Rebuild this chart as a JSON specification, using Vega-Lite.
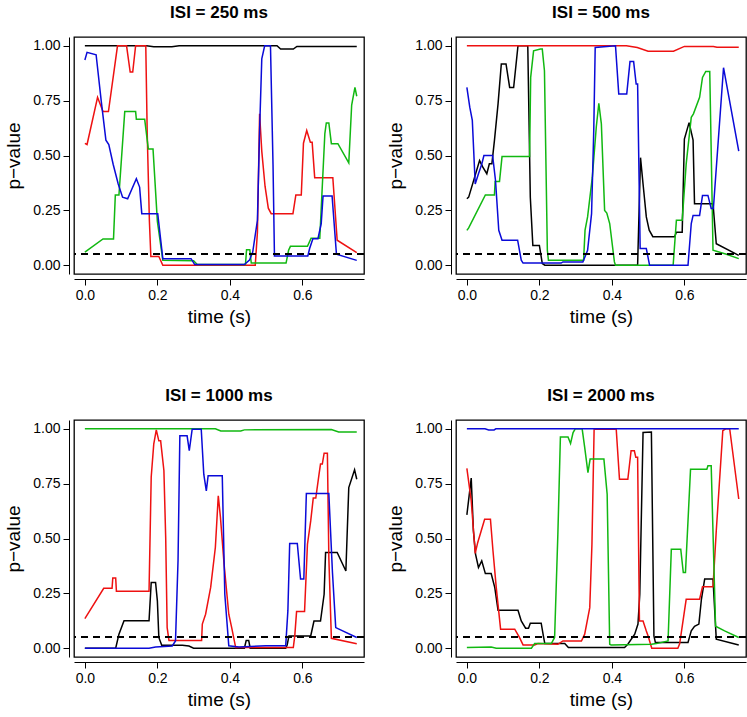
{
"$schema": "https://vega.github.io/schema/vega-lite/v6.json",
"padding": {"left": 4, "top": 3, "right": 0, "bottom": 0},
"background": "white",
"columns": 2,
"spacing": {"row": 146, "column": 92},
"bounds": "flush",
"datasets": {
"d250": [
{"t":0,"p":1,"s":"k"},{"t":0.17,"p":1,"s":"k"},{"t":0.19,"p":0.996,"s":"k"},{"t":0.24,"p":0.996,"s":"k"},{"t":0.26,"p":1,"s":"k"},{"t":0.53,"p":1,"s":"k"},{"t":0.54,"p":0.985,"s":"k"},{"t":0.575,"p":0.985,"s":"k"},{"t":0.585,"p":0.997,"s":"k"},{"t":0.75,"p":0.997,"s":"k"},
{"t":0,"p":0.555,"s":"r"},{"t":0.006,"p":0.55,"s":"r"},{"t":0.035,"p":0.765,"s":"r"},{"t":0.05,"p":0.7,"s":"r"},{"t":0.065,"p":0.7,"s":"r"},{"t":0.09,"p":1,"s":"r"},{"t":0.115,"p":1,"s":"r"},{"t":0.125,"p":0.88,"s":"r"},{"t":0.132,"p":0.88,"s":"r"},{"t":0.14,"p":1,"s":"r"},{"t":0.168,"p":1,"s":"r"},{"t":0.172,"p":0.6,"s":"r"},{"t":0.178,"p":0.2,"s":"r"},{"t":0.182,"p":0.04,"s":"r"},{"t":0.204,"p":0.04,"s":"r"},{"t":0.215,"p":0,"s":"r"},{"t":0.47,"p":0,"s":"r"},{"t":0.476,"p":0.15,"s":"r"},{"t":0.482,"p":0.69,"s":"r"},{"t":0.488,"p":0.52,"s":"r"},{"t":0.497,"p":0.36,"s":"r"},{"t":0.506,"p":0.26,"s":"r"},{"t":0.514,"p":0.235,"s":"r"},{"t":0.574,"p":0.235,"s":"r"},{"t":0.582,"p":0.32,"s":"r"},{"t":0.597,"p":0.32,"s":"r"},{"t":0.603,"p":0.556,"s":"r"},{"t":0.612,"p":0.614,"s":"r"},{"t":0.622,"p":0.56,"s":"r"},{"t":0.627,"p":0.56,"s":"r"},{"t":0.634,"p":0.399,"s":"r"},{"t":0.684,"p":0.399,"s":"r"},{"t":0.696,"p":0.114,"s":"r"},{"t":0.75,"p":0.057,"s":"r"},
{"t":0,"p":0.06,"s":"g"},{"t":0.05,"p":0.12,"s":"g"},{"t":0.079,"p":0.12,"s":"g"},{"t":0.084,"p":0.32,"s":"g"},{"t":0.094,"p":0.32,"s":"g"},{"t":0.11,"p":0.7,"s":"g"},{"t":0.14,"p":0.7,"s":"g"},{"t":0.142,"p":0.665,"s":"g"},{"t":0.165,"p":0.665,"s":"g"},{"t":0.175,"p":0.53,"s":"g"},{"t":0.188,"p":0.53,"s":"g"},{"t":0.2,"p":0.2,"s":"g"},{"t":0.215,"p":0.023,"s":"g"},{"t":0.3,"p":0.02,"s":"g"},{"t":0.31,"p":0.003,"s":"g"},{"t":0.443,"p":0.003,"s":"g"},{"t":0.446,"p":0.07,"s":"g"},{"t":0.455,"p":0.07,"s":"g"},{"t":0.459,"p":0.01,"s":"g"},{"t":0.555,"p":0.01,"s":"g"},{"t":0.562,"p":0.068,"s":"g"},{"t":0.567,"p":0.086,"s":"g"},{"t":0.614,"p":0.086,"s":"g"},{"t":0.624,"p":0.123,"s":"g"},{"t":0.648,"p":0.123,"s":"g"},{"t":0.662,"p":0.6,"s":"g"},{"t":0.666,"p":0.648,"s":"g"},{"t":0.673,"p":0.648,"s":"g"},{"t":0.68,"p":0.554,"s":"g"},{"t":0.698,"p":0.554,"s":"g"},{"t":0.728,"p":0.466,"s":"g"},{"t":0.736,"p":0.73,"s":"g"},{"t":0.745,"p":0.81,"s":"g"},{"t":0.75,"p":0.77,"s":"g"},
{"t":0,"p":0.935,"s":"b"},{"t":0.006,"p":0.97,"s":"b"},{"t":0.031,"p":0.959,"s":"b"},{"t":0.045,"p":0.75,"s":"b"},{"t":0.058,"p":0.57,"s":"b"},{"t":0.066,"p":0.55,"s":"b"},{"t":0.078,"p":0.46,"s":"b"},{"t":0.092,"p":0.37,"s":"b"},{"t":0.104,"p":0.31,"s":"b"},{"t":0.118,"p":0.303,"s":"b"},{"t":0.142,"p":0.394,"s":"b"},{"t":0.151,"p":0.356,"s":"b"},{"t":0.157,"p":0.235,"s":"b"},{"t":0.201,"p":0.235,"s":"b"},{"t":0.215,"p":0.03,"s":"b"},{"t":0.293,"p":0.03,"s":"b"},{"t":0.303,"p":0.003,"s":"b"},{"t":0.44,"p":0.003,"s":"b"},{"t":0.454,"p":0.023,"s":"b"},{"t":0.463,"p":0.06,"s":"b"},{"t":0.476,"p":0.205,"s":"b"},{"t":0.482,"p":0.614,"s":"b"},{"t":0.488,"p":0.94,"s":"b"},{"t":0.496,"p":1,"s":"b"},{"t":0.512,"p":1,"s":"b"},{"t":0.519,"p":0.46,"s":"b"},{"t":0.523,"p":0.042,"s":"b"},{"t":0.615,"p":0.042,"s":"b"},{"t":0.62,"p":0.076,"s":"b"},{"t":0.629,"p":0.121,"s":"b"},{"t":0.643,"p":0.121,"s":"b"},{"t":0.652,"p":0.19,"s":"b"},{"t":0.657,"p":0.315,"s":"b"},{"t":0.682,"p":0.315,"s":"b"},{"t":0.694,"p":0.05,"s":"b"},{"t":0.75,"p":0.022,"s":"b"}
],
"d500": [
{"t":0,"p":0.303,"s":"k"},{"t":0.005,"p":0.31,"s":"k"},{"t":0.035,"p":0.477,"s":"k"},{"t":0.044,"p":0.447,"s":"k"},{"t":0.055,"p":0.417,"s":"k"},{"t":0.062,"p":0.462,"s":"k"},{"t":0.069,"p":0.462,"s":"k"},{"t":0.076,"p":0.568,"s":"k"},{"t":0.086,"p":0.735,"s":"k"},{"t":0.095,"p":0.917,"s":"k"},{"t":0.108,"p":0.917,"s":"k"},{"t":0.118,"p":0.81,"s":"k"},{"t":0.129,"p":0.81,"s":"k"},{"t":0.141,"p":1,"s":"k"},{"t":0.168,"p":1,"s":"k"},{"t":0.175,"p":0.31,"s":"k"},{"t":0.182,"p":0.09,"s":"k"},{"t":0.2,"p":0.09,"s":"k"},{"t":0.208,"p":0.008,"s":"k"},{"t":0.215,"p":0,"s":"k"},{"t":0.471,"p":0,"s":"k"},{"t":0.479,"p":0.49,"s":"k"},{"t":0.486,"p":0.37,"s":"k"},{"t":0.495,"p":0.22,"s":"k"},{"t":0.503,"p":0.16,"s":"k"},{"t":0.513,"p":0.13,"s":"k"},{"t":0.573,"p":0.13,"s":"k"},{"t":0.578,"p":0.15,"s":"k"},{"t":0.594,"p":0.15,"s":"k"},{"t":0.6,"p":0.575,"s":"k"},{"t":0.613,"p":0.65,"s":"k"},{"t":0.624,"p":0.57,"s":"k"},{"t":0.628,"p":0.28,"s":"k"},{"t":0.679,"p":0.28,"s":"k"},{"t":0.688,"p":0.098,"s":"k"},{"t":0.75,"p":0.045,"s":"k"},
{"t":0,"p":1,"s":"r"},{"t":0.44,"p":1,"s":"r"},{"t":0.47,"p":0.992,"s":"r"},{"t":0.5,"p":0.975,"s":"r"},{"t":0.57,"p":0.975,"s":"r"},{"t":0.6,"p":0.997,"s":"r"},{"t":0.68,"p":0.997,"s":"r"},{"t":0.69,"p":0.993,"s":"r"},{"t":0.75,"p":0.993,"s":"r"},
{"t":0,"p":0.159,"s":"g"},{"t":0.005,"p":0.17,"s":"g"},{"t":0.051,"p":0.32,"s":"g"},{"t":0.076,"p":0.32,"s":"g"},{"t":0.078,"p":0.382,"s":"g"},{"t":0.09,"p":0.382,"s":"g"},{"t":0.097,"p":0.495,"s":"g"},{"t":0.173,"p":0.495,"s":"g"},{"t":0.176,"p":0.856,"s":"g"},{"t":0.184,"p":0.977,"s":"g"},{"t":0.203,"p":0.985,"s":"g"},{"t":0.208,"p":0.985,"s":"g"},{"t":0.214,"p":0.886,"s":"g"},{"t":0.222,"p":0.068,"s":"g"},{"t":0.225,"p":0.023,"s":"g"},{"t":0.322,"p":0.023,"s":"g"},{"t":0.326,"p":0.16,"s":"g"},{"t":0.333,"p":0.22,"s":"g"},{"t":0.346,"p":0.4,"s":"g"},{"t":0.357,"p":0.63,"s":"g"},{"t":0.364,"p":0.738,"s":"g"},{"t":0.371,"p":0.644,"s":"g"},{"t":0.38,"p":0.25,"s":"g"},{"t":0.386,"p":0.238,"s":"g"},{"t":0.394,"p":0.19,"s":"g"},{"t":0.407,"p":0.015,"s":"g"},{"t":0.41,"p":0,"s":"g"},{"t":0.569,"p":0,"s":"g"},{"t":0.578,"p":0.205,"s":"g"},{"t":0.594,"p":0.205,"s":"g"},{"t":0.605,"p":0.462,"s":"g"},{"t":0.619,"p":0.674,"s":"g"},{"t":0.625,"p":0.69,"s":"g"},{"t":0.642,"p":0.765,"s":"g"},{"t":0.65,"p":0.856,"s":"g"},{"t":0.659,"p":0.883,"s":"g"},{"t":0.67,"p":0.883,"s":"g"},{"t":0.679,"p":0.068,"s":"g"},{"t":0.716,"p":0.05,"s":"g"},{"t":0.75,"p":0.03,"s":"g"},
{"t":0,"p":0.81,"s":"b"},{"t":0.008,"p":0.72,"s":"b"},{"t":0.015,"p":0.66,"s":"b"},{"t":0.023,"p":0.37,"s":"b"},{"t":0.032,"p":0.417,"s":"b"},{"t":0.041,"p":0.46,"s":"b"},{"t":0.047,"p":0.5,"s":"b"},{"t":0.071,"p":0.5,"s":"b"},{"t":0.079,"p":0.386,"s":"b"},{"t":0.088,"p":0.159,"s":"b"},{"t":0.097,"p":0.114,"s":"b"},{"t":0.14,"p":0.114,"s":"b"},{"t":0.15,"p":0.023,"s":"b"},{"t":0.155,"p":0.01,"s":"b"},{"t":0.26,"p":0.01,"s":"b"},{"t":0.265,"p":0.015,"s":"b"},{"t":0.32,"p":0.015,"s":"b"},{"t":0.333,"p":0.068,"s":"b"},{"t":0.344,"p":0.235,"s":"b"},{"t":0.35,"p":0.614,"s":"b"},{"t":0.354,"p":0.992,"s":"b"},{"t":0.41,"p":1,"s":"b"},{"t":0.419,"p":0.78,"s":"b"},{"t":0.441,"p":0.78,"s":"b"},{"t":0.45,"p":0.928,"s":"b"},{"t":0.46,"p":0.928,"s":"b"},{"t":0.467,"p":0.826,"s":"b"},{"t":0.471,"p":0.826,"s":"b"},{"t":0.478,"p":0.076,"s":"b"},{"t":0.495,"p":0.076,"s":"b"},{"t":0.504,"p":0,"s":"b"},{"t":0.61,"p":0,"s":"b"},{"t":0.619,"p":0.19,"s":"b"},{"t":0.624,"p":0.227,"s":"b"},{"t":0.642,"p":0.227,"s":"b"},{"t":0.65,"p":0.318,"s":"b"},{"t":0.665,"p":0.318,"s":"b"},{"t":0.674,"p":0.258,"s":"b"},{"t":0.68,"p":0.258,"s":"b"},{"t":0.708,"p":0.9,"s":"b"},{"t":0.75,"p":0.52,"s":"b"}
],
"d1000": [
{"t":0,"p":0,"s":"k"},{"t":0.085,"p":0,"s":"k"},{"t":0.094,"p":0.064,"s":"k"},{"t":0.108,"p":0.125,"s":"k"},{"t":0.177,"p":0.125,"s":"k"},{"t":0.183,"p":0.3,"s":"k"},{"t":0.195,"p":0.3,"s":"k"},{"t":0.2,"p":0.216,"s":"k"},{"t":0.204,"p":0.049,"s":"k"},{"t":0.212,"p":0.014,"s":"k"},{"t":0.269,"p":0.014,"s":"k"},{"t":0.287,"p":0.01,"s":"k"},{"t":0.3,"p":0,"s":"k"},{"t":0.44,"p":0,"s":"k"},{"t":0.445,"p":0.035,"s":"k"},{"t":0.452,"p":0.035,"s":"k"},{"t":0.456,"p":0,"s":"k"},{"t":0.554,"p":0,"s":"k"},{"t":0.558,"p":0.015,"s":"k"},{"t":0.563,"p":0.056,"s":"k"},{"t":0.623,"p":0.056,"s":"k"},{"t":0.632,"p":0.124,"s":"k"},{"t":0.65,"p":0.124,"s":"k"},{"t":0.66,"p":0.246,"s":"k"},{"t":0.664,"p":0.436,"s":"k"},{"t":0.696,"p":0.436,"s":"k"},{"t":0.72,"p":0.352,"s":"k"},{"t":0.728,"p":0.732,"s":"k"},{"t":0.744,"p":0.813,"s":"k"},{"t":0.75,"p":0.77,"s":"k"},
{"t":0,"p":0.135,"s":"r"},{"t":0.052,"p":0.273,"s":"r"},{"t":0.075,"p":0.273,"s":"r"},{"t":0.077,"p":0.32,"s":"r"},{"t":0.085,"p":0.32,"s":"r"},{"t":0.087,"p":0.26,"s":"r"},{"t":0.177,"p":0.26,"s":"r"},{"t":0.183,"p":0.78,"s":"r"},{"t":0.19,"p":0.93,"s":"r"},{"t":0.197,"p":0.995,"s":"r"},{"t":0.204,"p":0.945,"s":"r"},{"t":0.209,"p":0.945,"s":"r"},{"t":0.218,"p":0.81,"s":"r"},{"t":0.223,"p":0.5,"s":"r"},{"t":0.227,"p":0.094,"s":"r"},{"t":0.232,"p":0.035,"s":"r"},{"t":0.322,"p":0.035,"s":"r"},{"t":0.324,"p":0.11,"s":"r"},{"t":0.333,"p":0.155,"s":"r"},{"t":0.347,"p":0.277,"s":"r"},{"t":0.36,"p":0.46,"s":"r"},{"t":0.368,"p":0.695,"s":"r"},{"t":0.374,"p":0.596,"s":"r"},{"t":0.384,"p":0.383,"s":"r"},{"t":0.397,"p":0.155,"s":"r"},{"t":0.405,"p":0.094,"s":"r"},{"t":0.416,"p":0.003,"s":"r"},{"t":0.575,"p":0.003,"s":"r"},{"t":0.579,"p":0.056,"s":"r"},{"t":0.584,"p":0.167,"s":"r"},{"t":0.606,"p":0.167,"s":"r"},{"t":0.614,"p":0.474,"s":"r"},{"t":0.623,"p":0.58,"s":"r"},{"t":0.63,"p":0.684,"s":"r"},{"t":0.637,"p":0.684,"s":"r"},{"t":0.646,"p":0.793,"s":"r"},{"t":0.65,"p":0.839,"s":"r"},{"t":0.655,"p":0.839,"s":"r"},{"t":0.66,"p":0.889,"s":"r"},{"t":0.669,"p":0.889,"s":"r"},{"t":0.673,"p":0.413,"s":"r"},{"t":0.68,"p":0.045,"s":"r"},{"t":0.75,"p":0.02,"s":"r"},
{"t":0,"p":1,"s":"g"},{"t":0.36,"p":1,"s":"g"},{"t":0.375,"p":0.99,"s":"g"},{"t":0.43,"p":0.99,"s":"g"},{"t":0.44,"p":0.995,"s":"g"},{"t":0.68,"p":0.997,"s":"g"},{"t":0.7,"p":0.985,"s":"g"},{"t":0.75,"p":0.985,"s":"g"},
{"t":0,"p":0,"s":"b"},{"t":0.177,"p":0,"s":"b"},{"t":0.195,"p":0.006,"s":"b"},{"t":0.241,"p":0.01,"s":"b"},{"t":0.25,"p":0.033,"s":"b"},{"t":0.257,"p":0.4,"s":"b"},{"t":0.262,"p":0.968,"s":"b"},{"t":0.282,"p":0.968,"s":"b"},{"t":0.288,"p":0.9,"s":"b"},{"t":0.296,"p":0.998,"s":"b"},{"t":0.321,"p":0.998,"s":"b"},{"t":0.328,"p":0.793,"s":"b"},{"t":0.335,"p":0.717,"s":"b"},{"t":0.34,"p":0.786,"s":"b"},{"t":0.379,"p":0.786,"s":"b"},{"t":0.386,"p":0.246,"s":"b"},{"t":0.397,"p":0.011,"s":"b"},{"t":0.425,"p":0.006,"s":"b"},{"t":0.499,"p":0.011,"s":"b"},{"t":0.554,"p":0.011,"s":"b"},{"t":0.56,"p":0.17,"s":"b"},{"t":0.565,"p":0.477,"s":"b"},{"t":0.586,"p":0.477,"s":"b"},{"t":0.595,"p":0.315,"s":"b"},{"t":0.604,"p":0.315,"s":"b"},{"t":0.611,"p":0.705,"s":"b"},{"t":0.673,"p":0.705,"s":"b"},{"t":0.683,"p":0.345,"s":"b"},{"t":0.692,"p":0.094,"s":"b"},{"t":0.75,"p":0.049,"s":"b"}
],
"d2000": [
{"t":0,"p":0.608,"s":"k"},{"t":0.012,"p":0.775,"s":"k"},{"t":0.018,"p":0.535,"s":"k"},{"t":0.024,"p":0.428,"s":"k"},{"t":0.032,"p":0.368,"s":"k"},{"t":0.041,"p":0.398,"s":"k"},{"t":0.051,"p":0.34,"s":"k"},{"t":0.067,"p":0.34,"s":"k"},{"t":0.077,"p":0.276,"s":"k"},{"t":0.086,"p":0.173,"s":"k"},{"t":0.141,"p":0.173,"s":"k"},{"t":0.15,"p":0.124,"s":"k"},{"t":0.162,"p":0.091,"s":"k"},{"t":0.17,"p":0.091,"s":"k"},{"t":0.175,"p":0.114,"s":"k"},{"t":0.205,"p":0.114,"s":"k"},{"t":0.211,"p":0.056,"s":"k"},{"t":0.215,"p":0.021,"s":"k"},{"t":0.27,"p":0.021,"s":"k"},{"t":0.28,"p":0.003,"s":"k"},{"t":0.435,"p":0.003,"s":"k"},{"t":0.444,"p":0.018,"s":"k"},{"t":0.463,"p":0.064,"s":"k"},{"t":0.472,"p":0.11,"s":"k"},{"t":0.477,"p":0.246,"s":"k"},{"t":0.486,"p":0.983,"s":"k"},{"t":0.509,"p":0.985,"s":"k"},{"t":0.516,"p":0.056,"s":"k"},{"t":0.52,"p":0.026,"s":"k"},{"t":0.61,"p":0.026,"s":"k"},{"t":0.619,"p":0.079,"s":"k"},{"t":0.628,"p":0.1,"s":"k"},{"t":0.64,"p":0.11,"s":"k"},{"t":0.647,"p":0.223,"s":"k"},{"t":0.656,"p":0.315,"s":"k"},{"t":0.679,"p":0.315,"s":"k"},{"t":0.688,"p":0.041,"s":"k"},{"t":0.75,"p":0.015,"s":"k"},
{"t":0,"p":0.82,"s":"r"},{"t":0.012,"p":0.672,"s":"r"},{"t":0.023,"p":0.432,"s":"r"},{"t":0.03,"p":0.482,"s":"r"},{"t":0.049,"p":0.588,"s":"r"},{"t":0.065,"p":0.588,"s":"r"},{"t":0.072,"p":0.444,"s":"r"},{"t":0.081,"p":0.277,"s":"r"},{"t":0.093,"p":0.087,"s":"r"},{"t":0.132,"p":0.087,"s":"r"},{"t":0.145,"p":0.049,"s":"r"},{"t":0.155,"p":0.015,"s":"r"},{"t":0.187,"p":0.015,"s":"r"},{"t":0.196,"p":0.021,"s":"r"},{"t":0.251,"p":0.018,"s":"r"},{"t":0.265,"p":0.033,"s":"r"},{"t":0.316,"p":0.033,"s":"r"},{"t":0.325,"p":0.064,"s":"r"},{"t":0.339,"p":0.185,"s":"r"},{"t":0.345,"p":0.474,"s":"r"},{"t":0.351,"p":0.998,"s":"r"},{"t":0.412,"p":0.998,"s":"r"},{"t":0.421,"p":0.77,"s":"r"},{"t":0.444,"p":0.77,"s":"r"},{"t":0.453,"p":0.9,"s":"r"},{"t":0.462,"p":0.9,"s":"r"},{"t":0.466,"p":0.87,"s":"r"},{"t":0.471,"p":0.87,"s":"r"},{"t":0.476,"p":0.124,"s":"r"},{"t":0.486,"p":0.124,"s":"r"},{"t":0.495,"p":0.079,"s":"r"},{"t":0.5,"p":0.056,"s":"r"},{"t":0.51,"p":0,"s":"r"},{"t":0.582,"p":0,"s":"r"},{"t":0.587,"p":0.02,"s":"r"},{"t":0.599,"p":0.155,"s":"r"},{"t":0.605,"p":0.223,"s":"r"},{"t":0.642,"p":0.223,"s":"r"},{"t":0.65,"p":0.28,"s":"r"},{"t":0.679,"p":0.28,"s":"r"},{"t":0.688,"p":0.535,"s":"r"},{"t":0.706,"p":0.991,"s":"r"},{"t":0.714,"p":1,"s":"r"},{"t":0.725,"p":1,"s":"r"},{"t":0.75,"p":0.68,"s":"r"},
{"t":0,"p":0.003,"s":"g"},{"t":0.067,"p":0.006,"s":"g"},{"t":0.081,"p":0,"s":"g"},{"t":0.178,"p":0,"s":"g"},{"t":0.187,"p":0.021,"s":"g"},{"t":0.233,"p":0.021,"s":"g"},{"t":0.242,"p":0.049,"s":"g"},{"t":0.251,"p":0.52,"s":"g"},{"t":0.258,"p":0.963,"s":"g"},{"t":0.279,"p":0.963,"s":"g"},{"t":0.286,"p":0.933,"s":"g"},{"t":0.293,"p":0.983,"s":"g"},{"t":0.299,"p":1,"s":"g"},{"t":0.318,"p":1,"s":"g"},{"t":0.325,"p":0.915,"s":"g"},{"t":0.334,"p":0.8,"s":"g"},{"t":0.34,"p":0.862,"s":"g"},{"t":0.378,"p":0.862,"s":"g"},{"t":0.387,"p":0.702,"s":"g"},{"t":0.394,"p":0.018,"s":"g"},{"t":0.398,"p":0.015,"s":"g"},{"t":0.509,"p":0.018,"s":"g"},{"t":0.523,"p":0.021,"s":"g"},{"t":0.555,"p":0.033,"s":"g"},{"t":0.564,"p":0.451,"s":"g"},{"t":0.59,"p":0.451,"s":"g"},{"t":0.597,"p":0.345,"s":"g"},{"t":0.603,"p":0.345,"s":"g"},{"t":0.617,"p":0.816,"s":"g"},{"t":0.662,"p":0.816,"s":"g"},{"t":0.665,"p":0.831,"s":"g"},{"t":0.674,"p":0.831,"s":"g"},{"t":0.686,"p":0.1,"s":"g"},{"t":0.711,"p":0.079,"s":"g"},{"t":0.75,"p":0.049,"s":"g"},
{"t":0,"p":1,"s":"b"},{"t":0.05,"p":1,"s":"b"},{"t":0.06,"p":0.995,"s":"b"},{"t":0.075,"p":0.995,"s":"b"},{"t":0.08,"p":1,"s":"b"},{"t":0.75,"p":1,"s":"b"}
]
},
"concat": [
{"title": "ISI = 250 ms", "width": 290, "height": 237, "data": {"name": "d250"},
 "layer": [
  {"mark": {"type": "line", "strokeWidth": 1.5, "clip": true},
   "encoding": {
    "x": {"field": "t", "type": "quantitative", "scale": {"domain": [-0.03, 0.77], "nice": false, "zero": false}, "axis": {"values": [0, 0.2, 0.4, 0.6], "format": ".1f", "title": "time (s)"}},
    "y": {"field": "p", "type": "quantitative", "scale": {"domain": [-0.04, 1.04], "nice": false, "zero": false}, "axis": {"values": [0, 0.25, 0.5, 0.75, 1], "format": ".2f", "title": "p\u2212value"}},
    "color": {"field": "s", "type": "nominal", "scale": {"domain": ["k", "r", "g", "b"], "range": ["#000000", "#EE1111", "#11B811", "#0A0AD8"]}, "legend": null}}},
  {"mark": {"type": "rule", "strokeDash": [7, 5], "color": "black", "strokeWidth": 1.2}, "encoding": {"y": {"datum": 0.05}}}
 ]},
{"title": "ISI = 500 ms", "width": 290, "height": 237, "data": {"name": "d500"},
 "layer": [
  {"mark": {"type": "line", "strokeWidth": 1.5, "clip": true},
   "encoding": {
    "x": {"field": "t", "type": "quantitative", "scale": {"domain": [-0.03, 0.77], "nice": false, "zero": false}, "axis": {"values": [0, 0.2, 0.4, 0.6], "format": ".1f", "title": "time (s)"}},
    "y": {"field": "p", "type": "quantitative", "scale": {"domain": [-0.04, 1.04], "nice": false, "zero": false}, "axis": {"values": [0, 0.25, 0.5, 0.75, 1], "format": ".2f", "title": "p\u2212value"}},
    "color": {"field": "s", "type": "nominal", "scale": {"domain": ["k", "r", "g", "b"], "range": ["#000000", "#EE1111", "#11B811", "#0A0AD8"]}, "legend": null}}},
  {"mark": {"type": "rule", "strokeDash": [7, 5], "color": "black", "strokeWidth": 1.2}, "encoding": {"y": {"datum": 0.05}}}
 ]},
{"title": "ISI = 1000 ms", "width": 290, "height": 237, "data": {"name": "d1000"},
 "layer": [
  {"mark": {"type": "line", "strokeWidth": 1.5, "clip": true},
   "encoding": {
    "x": {"field": "t", "type": "quantitative", "scale": {"domain": [-0.03, 0.77], "nice": false, "zero": false}, "axis": {"values": [0, 0.2, 0.4, 0.6], "format": ".1f", "title": "time (s)"}},
    "y": {"field": "p", "type": "quantitative", "scale": {"domain": [-0.04, 1.04], "nice": false, "zero": false}, "axis": {"values": [0, 0.25, 0.5, 0.75, 1], "format": ".2f", "title": "p\u2212value"}},
    "color": {"field": "s", "type": "nominal", "scale": {"domain": ["k", "r", "g", "b"], "range": ["#000000", "#EE1111", "#11B811", "#0A0AD8"]}, "legend": null}}},
  {"mark": {"type": "rule", "strokeDash": [7, 5], "color": "black", "strokeWidth": 1.2}, "encoding": {"y": {"datum": 0.05}}}
 ]},
{"title": "ISI = 2000 ms", "width": 290, "height": 237, "data": {"name": "d2000"},
 "layer": [
  {"mark": {"type": "line", "strokeWidth": 1.5, "clip": true},
   "encoding": {
    "x": {"field": "t", "type": "quantitative", "scale": {"domain": [-0.03, 0.77], "nice": false, "zero": false}, "axis": {"values": [0, 0.2, 0.4, 0.6], "format": ".1f", "title": "time (s)"}},
    "y": {"field": "p", "type": "quantitative", "scale": {"domain": [-0.04, 1.04], "nice": false, "zero": false}, "axis": {"values": [0, 0.25, 0.5, 0.75, 1], "format": ".2f", "title": "p\u2212value"}},
    "color": {"field": "s", "type": "nominal", "scale": {"domain": ["k", "r", "g", "b"], "range": ["#000000", "#EE1111", "#11B811", "#0A0AD8"]}, "legend": null}}},
  {"mark": {"type": "rule", "strokeDash": [7, 5], "color": "black", "strokeWidth": 1.2}, "encoding": {"y": {"datum": 0.05}}}
 ]}
],
"config": {
 "font": "Liberation Sans",
 "view": {"stroke": "black", "strokeWidth": 1.3},
 "axis": {"grid": false, "domainColor": "black", "tickColor": "black", "labelColor": "black", "titleColor": "black", "labelFontSize": 14, "titleFontSize": 19, "titleFontWeight": "normal", "tickSize": 6, "offset": 5, "labelPadding": 3, "domainWidth": 1, "tickWidth": 1},
 "axisX": {"titlePadding": 5},
 "axisY": {"titlePadding": 9},
 "title": {"fontSize": 17, "fontWeight": "bold", "offset": 15, "color": "black", "anchor": "middle"}
}
}
